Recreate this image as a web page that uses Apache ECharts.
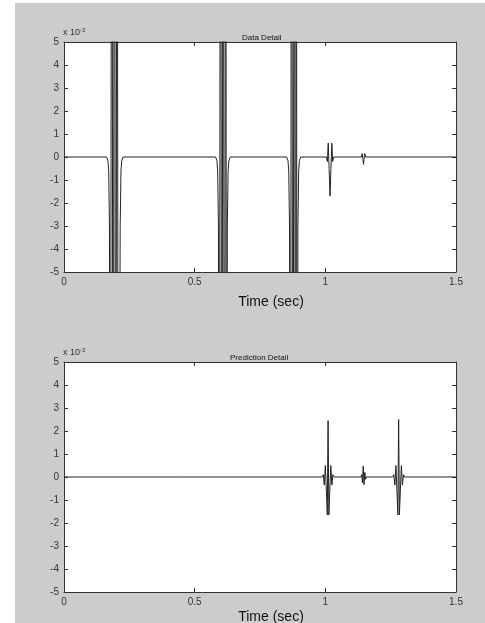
<!DOCTYPE html>
<html>
<head>
<meta charset="utf-8">
<script src="https://cdn.jsdelivr.net/npm/echarts@6/dist/echarts.min.js"></script>
<style>
  html, body { margin: 0; padding: 0; background: #fff; }
  #chart { width: 485px; height: 623px; }
</style>
</head>
<body>
<div id="chart"></div>
<script>
// x 轴刻度
const xTicks = [0, 0.5, 1, 1.5];

// 上图：Data Detail（单位 1e-3）
const dataTime = [
  0, 0.163, 0.168, 0.171, 0.174, 0.177, 0.183, 0.188, 0.193, 0.198, 0.203, 0.208, 0.212, 0.215, 0.218, 0.221, 0.226,
  0.580, 0.585, 0.588, 0.591, 0.594, 0.599, 0.604, 0.609, 0.614, 0.619, 0.622, 0.625, 0.628, 0.631, 0.636,
  0.852, 0.857, 0.860, 0.863, 0.866, 0.871, 0.876, 0.881, 0.886, 0.889, 0.892, 0.895, 0.898, 0.901, 0.906,
  1.004, 1.008, 1.011, 1.0145, 1.018, 1.0215, 1.025, 1.028, 1.032,
  1.138, 1.141, 1.144, 1.146, 1.148, 1.151, 1.154, 1.5
];
const dataValue = [
  0, 0, -0.15, -0.6, -3, -30, 30, -30, 30, -30, 30, -30, -30, -3, -0.6, -0.15, 0,
  0, -0.15, -0.6, -3, -30, 30, -30, 30, -30, 30, -30, -3, -0.6, -0.15, 0,
  0, -0.15, -0.6, -3, -30, 30, -30, 30, -30, 30, -30, -3, -0.6, -0.15, 0,
  0, -0.2, 0.6, -0.5, -1.7, -0.5, 0.6, -0.2, 0,
  0, 0.15, -0.1, -0.32, -0.1, 0.15, 0, 0
];

// 下图：Prediction Detail（单位 1e-3）
const predTime = [
  0, 0.45, 0.452, 0.454, 0.988, 0.992, 0.996, 1.000, 1.004, 1.0075, 1.0105, 1.0135, 1.017, 1.021, 1.025, 1.029, 1.034,
  1.136, 1.139, 1.142, 1.145, 1.148, 1.151, 1.154, 1.157,
  1.258, 1.262, 1.266, 1.270, 1.274, 1.2775, 1.2805, 1.2835, 1.287, 1.291, 1.295, 1.299, 1.304,
  1.420, 1.423, 1.426, 1.429, 1.5
];
const predValue = [
  0, 0, 0.04, 0, 0, 0.1, -0.35, 0.5, -0.6, -1.65, 2.45, -1.65, -0.6, 0.5, -0.35, 0.1, 0,
  0, 0.1, -0.25, 0.48, -0.33, 0.2, -0.1, 0,
  0, 0.1, -0.35, 0.5, -0.6, -1.65, 2.5, -1.65, -0.6, 0.5, -0.35, 0.1, 0,
  0, 0.06, -0.05, 0, 0
];

const yTicks = [-5, -4, -3, -2, -1, 0, 1, 2, 3, 4, 5];

const font = 'Liberation Sans, Arial, sans-serif';
const grids = [
  { left: 64, top: 42, width: 392, height: 230 },
  { left: 64, top: 362, width: 392, height: 230 }
];

function pairs(t, v) {
  return t.map((x, i) => [x, v[i]]);
}

const lineStyle = { color: '#333', width: 1 };

function xAxes(gi) {
  const base = {
    type: 'value', gridIndex: gi, min: xTicks[0], max: xTicks[xTicks.length - 1], interval: 0.5,
    axisLine: { show: true, onZero: false, lineStyle },
    axisTick: { show: true, inside: true, length: 4, lineStyle },
    splitLine: { show: false }
  };
  return [
    { ...base, position: 'bottom',
      axisLabel: { color: '#333', fontSize: 10, fontFamily: font, margin: 5, formatter: v => String(v) } },
    { ...base, position: 'top', axisLabel: { show: false } }
  ];
}

function yAxes(gi) {
  const base = {
    type: 'value', gridIndex: gi, min: yTicks[0], max: yTicks[yTicks.length - 1], interval: 1,
    axisLine: { show: true, onZero: false, lineStyle },
    axisTick: { show: true, inside: true, length: 4, lineStyle },
    splitLine: { show: false }
  };
  return [
    { ...base, position: 'left',
      axisLabel: { color: '#333', fontSize: 10, fontFamily: font, margin: 5 } },
    { ...base, position: 'right', axisLabel: { show: false } }
  ];
}

const chart = echarts.init(document.getElementById('chart'), null, { renderer: 'canvas' });

const expLabel = (x, y) => ({
  type: 'text', left: x, top: y, z: 10,
  style: {
    text: '{a|x 10}{b|-3}', fill: '#333',
    rich: {
      a: { fontSize: 9, fontFamily: font, fill: '#333' },
      b: { fontSize: 6, fontFamily: font, fill: '#333', verticalAlign: 'top', padding: [0, 0, 6, 0] }
    }
  }
});

const xName = (y) => ({
  type: 'text', x: 271, y: y, z: 10,
  style: { text: 'Time (sec)', fill: '#111', fontSize: 14, fontFamily: font, align: 'center', verticalAlign: 'middle' }
});

chart.setOption({
  animation: false,
  backgroundColor: '#fff',
  title: [
    { text: 'Data Detail', left: 237, top: 29, textStyle: { fontSize: 8, fontWeight: 'normal', color: '#111', fontFamily: font } },
    { text: 'Prediction Detail', left: 225, top: 349, textStyle: { fontSize: 8, fontWeight: 'normal', color: '#111', fontFamily: font } }
  ],
  graphic: [
    { type: 'rect', shape: { x: 15, y: 3, width: 470, height: 620 }, style: { fill: '#cccccc' }, z: -10, silent: true },
    expLabel(63, 27),
    expLabel(63, 347),
    xName(302),
    xName(617)
  ],
  grid: grids.map(g => ({ ...g, show: true, backgroundColor: '#fff', borderWidth: 0 })),
  xAxis: [...xAxes(0), ...xAxes(1)],
  yAxis: [...yAxes(0), ...yAxes(1)],
  series: [
    {
      type: 'line', xAxisIndex: 0, yAxisIndex: 0, showSymbol: false, clip: true,
      lineStyle: { color: '#222', width: 1 }, data: pairs(dataTime, dataValue)
    },
    {
      type: 'line', xAxisIndex: 2, yAxisIndex: 2, showSymbol: false, clip: true,
      lineStyle: { color: '#222', width: 1 }, data: pairs(predTime, predValue)
    }
  ]
});
</script>
</body>
</html>
